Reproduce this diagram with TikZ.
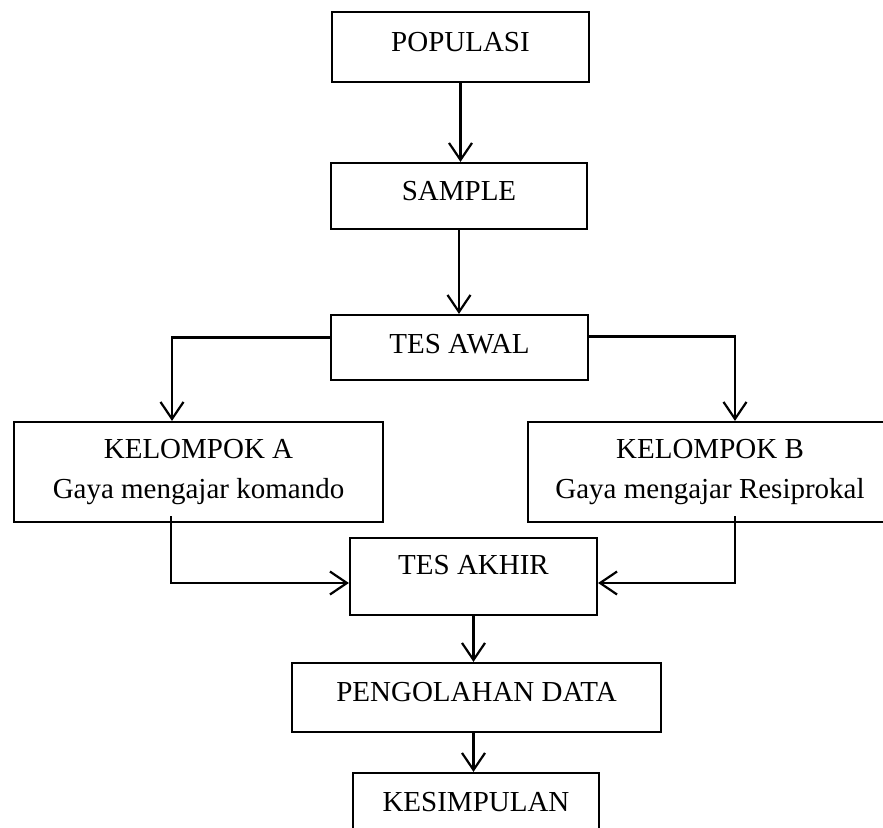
\documentclass[tikz,border=0pt]{standalone}
\usepackage{fontspec}
\setmainfont{Liberation Serif}
\usetikzlibrary{arrows.meta}
\begin{document}
\begin{tikzpicture}[x=1pt,y=-1pt,
  box/.style={draw=black, line width=2.2pt, rectangle, inner sep=0pt, align=center,
    font=\fontsize{29}{40}\selectfont},
  single/.style={box, text height=19pt},
  arr/.style={line width=2.2pt, -{Straight Barb[length=17pt,width=23pt,line width=2.2pt]}}]
\useasboundingbox (0,0) rectangle (883,827);
\begin{scope}
\clip (0,0) rectangle (883,827);
\node[single, minimum width=257pt, minimum height=70pt, text depth=10pt] (popul) at (460.5,47) {POPULASI};
\node[single, minimum width=256pt, minimum height=66pt, text depth=10pt] (sample) at (459,196) {SAMPLE};
\node[single, minimum width=257pt, minimum height=65pt, text depth=7pt] (tesawal) at (459.5,347.5) {TES AWAL};
\node[box, minimum width=369pt, minimum height=100pt] (kelA) at (198.5,472) {KELOMPOK A\\Gaya mengajar komando};
\node[box, minimum width=364pt, minimum height=100pt] (kelB) at (710,472) {KELOMPOK B\\Gaya mengajar Resiprokal};
\node[single, minimum width=247pt, minimum height=77pt, text depth=23pt] (tesakhir) at (473.5,576.5) {TES AKHIR};
\node[single, minimum width=369pt, minimum height=69pt, text depth=11pt] (peng) at (476.5,697.5) {PENGOLAHAN DATA};
\node[single, minimum width=246pt, minimum height=70pt, text depth=12pt] (kes) at (476,808) {KESIMPULAN};

\draw[arr] (popul.south) -- (popul.south |- sample.north);
\draw[arr] (sample.south) -- (sample.south |- tesawal.north);
\draw[arr] ([yshift=10pt]tesawal.west) -| ([xshift=-26.5pt]kelA.north);
\draw[arr] ([yshift=11pt]tesawal.east) -| ([xshift=25pt]kelB.north);
\draw[arr] ([xshift=-27.5pt,yshift=7pt]kelA.south) |- ([yshift=-6.5pt]tesakhir.west);
\draw[arr] ([xshift=25pt,yshift=7pt]kelB.south) |- ([yshift=-6.5pt]tesakhir.east);
\draw[arr] (tesakhir.south) -- (tesakhir.south |- peng.north);
\draw[arr] (tesakhir.south |- peng.south) -- (tesakhir.south |- kes.north);
\end{scope}
\end{tikzpicture}
\end{document}
